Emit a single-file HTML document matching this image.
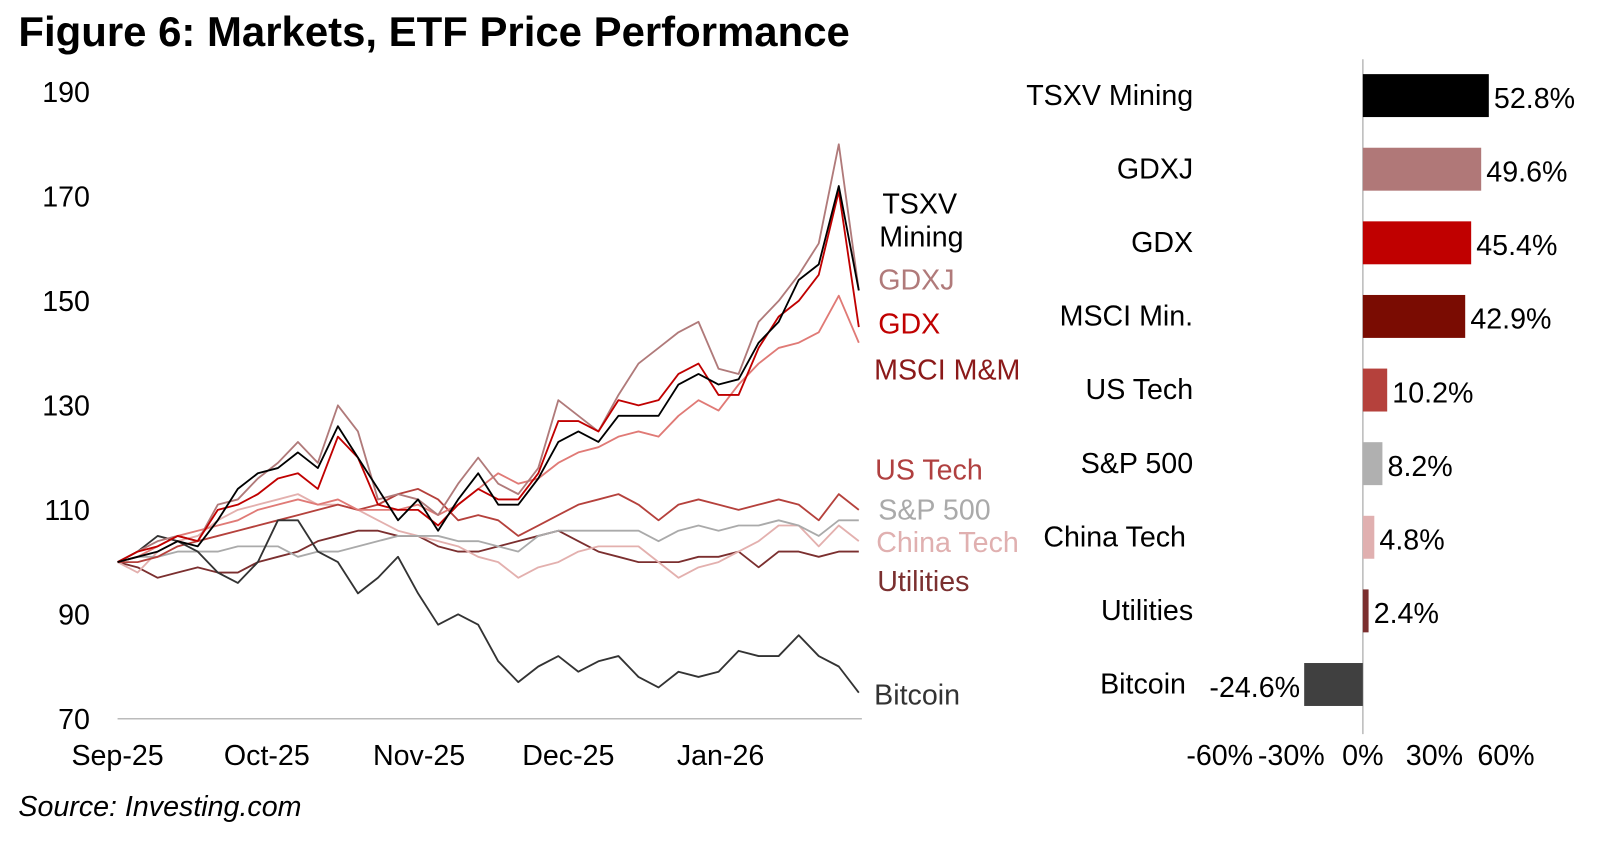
<!DOCTYPE html>
<html><head><meta charset="utf-8">
<style>
html,body{margin:0;padding:0;background:#fff;}
body{width:1600px;height:837px;overflow:hidden;font-family:"Liberation Sans",Arial,sans-serif;}
svg text{font-family:"Liberation Sans",Arial,sans-serif;}
</style></head>
<body>
<svg id="chart" width="1600" height="837" viewBox="0 0 1600 837" xmlns="http://www.w3.org/2000/svg">
<g transform="scale(1.0224)">
<text x="18" y="45" font-size="41" font-weight="bold" fill="#000">Figure 6: Markets, ETF Price Performance</text>
<text x="18" y="798" font-size="28" font-style="italic" fill="#000">Source: Investing.com</text>
<g id="line-chart"></g>
<g id="bar-chart"></g>
</g>
</svg>
<script>
const NS="http://www.w3.org/2000/svg";
// ---- line chart data ----
const yTicks=[70,90,110,130,150,170,190];
const xTickLabels=["Sep-25","Oct-25","Nov-25","Dec-25","Jan-26"];
const xTickPos=[0,7.45,15.05,22.5,30.1];
const tsxv=[100,101,102,104,103,108,114,117,118,121,118,126,120,114,108,112,106,112,117,111,111,116,123,125,123,128,128,128,134,136,134,135,142,146,154,157,172,152];
const gdxj=[100,102,104,105,104,111,112,116,119,123,119,130,125,112,113,112,109,115,120,115,113,118,131,128,125,132,138,141,144,146,137,136,146,150,155,161,180,152];
const gdx=[100,102,103,105,104,110,111,113,116,117,114,124,120,111,110,110,107,111,114,112,112,117,127,127,125,131,130,131,136,138,132,132,141,147,150,155,171,145];
const msci=[100,101,103,105,106,107,108,110,111,112,111,112,110,110,110,111,109,111,114,117,115,116,119,121,122,124,125,124,128,131,129,134,138,141,142,144,151,142];
const usTech=[100,100,101,103,104,105,106,107,108,109,110,111,110,111,113,114,112,108,109,108,105,107,109,111,112,113,111,108,111,112,111,110,111,112,111,108,113,110];
const sp500=[100,101,101,102,102,102,103,103,103,101,102,102,103,104,105,105,105,104,104,103,102,105,106,106,106,106,106,104,106,107,106,107,107,108,107,105,108,108];
const chinaTech=[100,98,102,104,105,108,110,111,112,113,111,111,110,108,106,105,104,103,101,100,97,99,100,102,103,103,103,100,97,99,100,102,104,107,107,103,107,104];
const utilities=[100,99,97,98,99,98,98,100,101,102,104,105,106,106,105,105,103,102,102,103,104,105,106,104,102,101,100,100,100,101,101,102,99,102,102,101,102,102];
const bitcoin=[100,102,105,104,102,98,96,100,108,108,102,100,94,97,101,94,88,90,88,81,77,80,82,79,81,82,78,76,79,78,79,83,82,82,86,82,80,75];

// ---- bar chart data ----
const barCats=["TSXV Mining","GDXJ","GDX","MSCI Min.","US Tech","S&P 500","China Tech","Utilities","Bitcoin"];
const barVals=[52.8,49.6,45.4,42.9,10.2,8.2,4.8,2.4,-24.6];
const barTicks=[-60,-30,0,30,60];

function mk(tag,attrs,parent){const e=document.createElementNS(NS,tag);for(const k in attrs)e.setAttribute(k,attrs[k]);parent.appendChild(e);return e;}

const lc=document.getElementById('line-chart');
const X0=115,X1=840,Y0=703,Y1=90;
const xS=i=>X0+(X1-X0)*i/(tsxv.length-1);
const yS=v=>Y0-(v-70)/(190-70)*(Y0-Y1);

yTicks.forEach(t=>{
  const tx=mk('text',{x:88,y:yS(t)+10,'font-size':28,'text-anchor':'end',fill:'#000'},lc);
  
  
  tx.textContent=t;
});
const ax=mk('line',{x1:X0,x2:X1+3,y1:Y0,y2:Y0,stroke:'#bbb','stroke-width':1.5},lc);


xTickLabels.forEach((l,i)=>{
  const tx=mk('text',{x:xS(xTickPos[i]),y:748,'font-size':28,'text-anchor':'middle',fill:'#000'},lc);
  
  
  tx.textContent=l;
});
const series=[
 {d:utilities,c:'#7b2f2f',n:'utilities'},
 {d:chinaTech,c:'#e3b0ae',n:'china-tech'},
 {d:sp500,c:'#aaaaaa',n:'sp500'},
 {d:usTech,c:'#b5413c',n:'us-tech'},
 {d:msci,c:'#e07a76',n:'msci-mm'},
 {d:bitcoin,c:'#333333',n:'bitcoin'},
 {d:gdxj,c:'#b07a7a',n:'gdxj'},
 {d:gdx,c:'#c00000',n:'gdx'},
 {d:tsxv,c:'#000000',n:'tsxv-mining'}
];
series.forEach(s=>{
  const p=s.d.map((v,i)=>(i?'L':'M')+xS(i).toFixed(1)+','+yS(v).toFixed(1)).join('');
  const pa=mk('path',{d:p,fill:'none',stroke:s.c,'stroke-width':1.8,'stroke-linejoin':'round'},lc);
  
  
});
const endLabels=[
 ['TSXV',863,209,'#000'],['Mining',860,241,'#000'],['GDXJ',859,283,'#b07a7a'],['GDX',859,326,'#c00000'],
 ['MSCI M&M',855,371,'#8b1a1a'],['US Tech',856,469,'#b04040'],['S&P 500',859,508,'#aaaaaa'],
 ['China Tech',857,540,'#e0b0b0'],['Utilities',858,578,'#7b3030'],['Bitcoin',855,689,'#333']
];
endLabels.forEach(l=>{
  const tx=mk('text',{x:l[1],y:l[2],'font-size':28,fill:l[3]},lc);
  
  
  tx.textContent=l[0];
});

// ---- bars ----
const bc=document.getElementById('bar-chart');
const Z=1333,PX=70/30;
const bx=v=>Z+v*PX;
const barColors=['#000000','#b07878','#c00000','#7a0c02','#b5413c','#b0b0b0','#e0b0b0','#7b2f2f','#404040'];
const zl=mk('line',{x1:Z,x2:Z,y1:58,y2:718,stroke:'#bbb','stroke-width':1.5},bc);


barCats.forEach((c,i)=>{
  const cy=93.5+72*i, v=barVals[i];
  const x=Math.min(bx(0),bx(v)), w=Math.abs(bx(v)-bx(0));
  const r=mk('rect',{x:x,y:cy-21,width:w,height:42,fill:barColors[i]},bc);
  
  
  const cl=mk('text',{x:(i==6||i==8)?1160:1167,y:cy+9,'font-size':28,'text-anchor':'end',fill:'#000'},bc);
  
  
  cl.textContent=c;
  const vl=mk('text',{x:v>=0?bx(v)+5:bx(v)-4,y:cy+12,'font-size':28,'text-anchor':v>=0?'start':'end',fill:'#000'},bc);
  
  
  vl.textContent=v.toFixed(1)+'%';
});
barTicks.forEach(t=>{
  const tx=mk('text',{x:bx(t),y:748,'font-size':28,'text-anchor':'middle',fill:'#000'},bc);
  
  
  tx.textContent=t+'%';
});
</script>
</body></html>
